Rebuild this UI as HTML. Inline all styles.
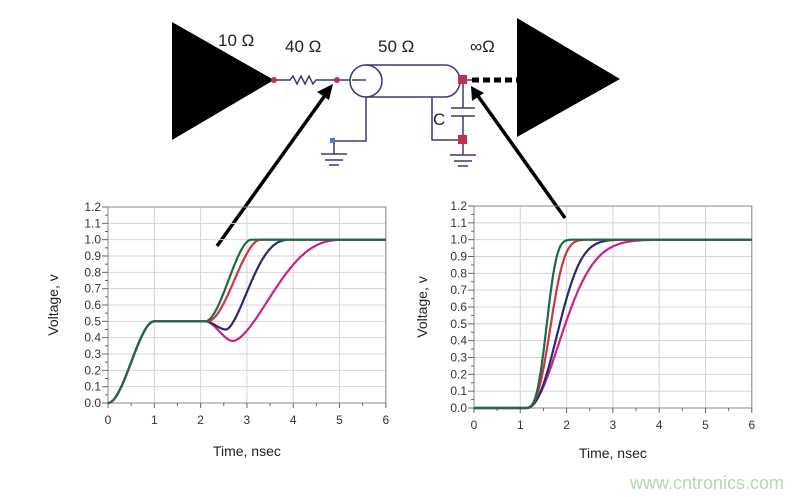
<!DOCTYPE html><html><head><meta charset="utf-8"><style>
body{margin:0;background:#fff}svg{display:block}
text{font-family:"Liberation Sans",sans-serif}
</style></head><body>
<svg id="s" width="792" height="497" xmlns="http://www.w3.org/2000/svg">
<rect width="792" height="497" fill="#fff"/>
<polygon points="172,22 172,140 274,80" fill="#000"/>
<polygon points="517,18 517,137 620,79" fill="#000"/>
<g font-size="17" fill="#222">
<text x="218" y="46">10 Ω</text><text x="285" y="52">40 Ω</text><text x="378" y="52">50 Ω</text><text x="470" y="52">∞Ω</text>
<text x="433" y="125">C</text></g>
<g stroke="#3a3a78" stroke-width="1.5" fill="none">
<polyline points="274,80 290,80 293,76 297,84 301,76 305,84 309,76 313,84 316,80 350,80"/>
<ellipse cx="366" cy="81" rx="16" ry="16"/>
<path d="M366,65 L445,65 A15,16 0 0 1 445,97 L366,97"/>
<path d="M352,80 L366,80"/>
<path d="M460,80 L472,80"/>
<path d="M366,97 L366,141 L334,141 M334,141 L334,154 M321,154 L347,154 M325,160 L343,160 M329,165 L339,165"/>
<path d="M432,97 L432,140 L463,140 M463,80 L463,108 M451,108 L475,108 M451,116 L475,116 M463,116 L463,155 M450,155 L476,155 M454,161 L472,161 M458,166 L468,166"/>
</g>
<g fill="#c0304a"><circle cx="274" cy="80" r="3"/><circle cx="337" cy="80" r="3"/><rect x="458" y="75" width="9" height="9"/><rect x="458" y="135" width="9" height="9"/><rect x="330" y="138" width="5" height="5" fill="#5a7ab0"/></g>
<line x1="472" y1="80" x2="517" y2="80" stroke="#000" stroke-width="5" stroke-dasharray="7,4"/>
<g stroke="#000" stroke-width="3.5"><line x1="217" y1="246" x2="326" y2="94"/><line x1="565" y1="218" x2="478" y2="96"/></g>
<polygon points="333,84 317,92 329,100" fill="#000"/>
<polygon points="471,86 472,101 484,93" fill="#000"/>
<g id="c"></g>
<text x="630" y="489" font-size="18" fill="#b5d6b5">www.cntronics.com</text>
</svg>
<script>
var g=document.getElementById('c'),NS='http://www.w3.org/2000/svg';
function el(t,a,txt){var e=document.createElementNS(NS,t);for(var k in a)e.setAttribute(k,a[k]);if(txt!=null)e.textContent=txt;g.appendChild(e);return e;}
function ss(x){x=Math.max(0,Math.min(1,x));return x*x*(3-2*x);}
function chart(x0,y0,y1,fns,lx,ty){
 var sx=46.3,sy=(y0-y1)/1.2,xr=x0+6*sx;
 for(var i=1;i<=12;i++){var y=y0-i*sy/10;el('line',{x1:x0,x2:xr,y1:y,y2:y,stroke:'#d4d4d4','stroke-width':1});}
 for(var i=1;i<=6;i++){var x=x0+i*sx;el('line',{x1:x,x2:x,y1:y1,y2:y0,stroke:'#d4d4d4','stroke-width':1});}
 el('rect',{x:x0,y:y1,width:6*sx,height:y0-y1,fill:'none',stroke:'#888','stroke-width':1});
 for(var i=0;i<=12;i++){var y=y0-i*sy/10;el('line',{x1:x0-6,x2:x0,y1:y,y2:y,stroke:'#666'});
  el('text',{x:x0-7,y:y+4,'font-size':12,'text-anchor':'end',fill:'#333'},(i/10).toFixed(1));
  if(i<12)el('line',{x1:x0-3,x2:x0,y1:y-sy/20,y2:y-sy/20,stroke:'#666'});}
 for(var i=0;i<=6;i++){var x=x0+i*sx;el('line',{x1:x,x2:x,y1:y0,y2:y0+5,stroke:'#666'});
  el('text',{x:x,y:y0+21,'font-size':12,'text-anchor':'middle',fill:'#333'},i);
  if(i<6)el('line',{x1:x+sx/2,x2:x+sx/2,y1:y0,y2:y0+3,stroke:'#666'});}
 el('text',{x:x0+3*sx,y:ty,'font-size':14,'text-anchor':'middle',fill:'#222'},'Time, nsec');
 el('text',{x:0,y:0,'font-size':14,'text-anchor':'middle',fill:'#222',transform:'translate('+lx+','+(y0-0.5*(y0-y1))+') rotate(-90)'},'Voltage, v');
 fns.forEach(function(f){var d='';for(var t=0;t<=6.001;t+=0.02){d+=(t?'L':'M')+(x0+t*sx).toFixed(1)+','+(y0-f[0](t)*sy).toFixed(1);}
  el('path',{d:d,fill:'none',stroke:f[1],'stroke-width':2.2});});
}
function dip(t,t0,tm,dv,te){
 if(t<t0)return 0.5; if(t<tm)return 0.5-dv*ss((t-t0)/(tm-t0));
 var v=0.5-dv; var k=ss((t-tm)/(te-tm)); k=Math.pow(k,0.85); return v+(1-v)*(1-Math.pow(1-k,1.6));}
function base(t){return t<1?0.5*ss(t):0.5;}
chart(108,403,207,[
 [function(t){return t<2.1?base(t):dip(t,2.1,2.7,0.12,5.2);},'#cc2288'],
 [function(t){return t<2.1?base(t):dip(t,2.1,2.55,0.05,4.0);},'#2a2a70'],
 [function(t){return t<2.1?base(t):0.5+0.5*ss((t-2.15)/1.15);},'#c83848'],
 [function(t){return t<2.1?base(t):0.5+0.5*ss((t-2.1)/1.0);},'#1f6a45']
],58,456);
function wb(a,l,k){return function(t){if(t<=a)return 0;var v=1-Math.exp(-Math.pow((t-a)/l,k));return v;};}
chart(474,408,206,[
 [wb(1.15,1.0,1.9),'#cc2288'],
 [wb(1.12,0.86,2.3),'#2a2a70'],
 [wb(1.1,0.64,2.8),'#c83848'],
 [wb(1.1,0.53,3.2),'#1f6a45']
],427,458);
</script>
</body></html>
